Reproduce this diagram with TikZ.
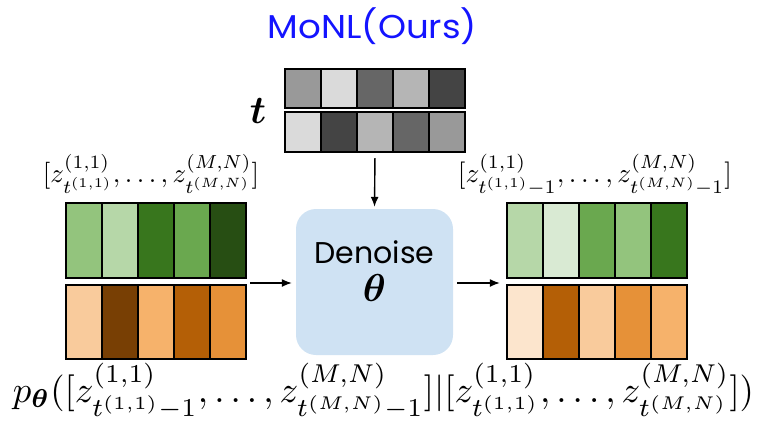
\documentclass[tikz,border=0pt]{standalone}
\usepackage{amsmath,bm}
\usepackage{fontspec}
\newfontfamily\labelfont{Poppins}
\usetikzlibrary{arrows.meta}

% gray levels of the timestep grid
\definecolor{k1}{HTML}{999999}
\definecolor{k2}{HTML}{DADADA}
\definecolor{k3}{HTML}{666666}
\definecolor{k4}{HTML}{B5B5B5}
\definecolor{k5}{HTML}{444444}
% greens
\definecolor{gA}{HTML}{D9EAD3}
\definecolor{gB}{HTML}{B6D7A8}
\definecolor{gC}{HTML}{93C47D}
\definecolor{gD}{HTML}{6AA84F}
\definecolor{gE}{HTML}{38761D}
\definecolor{gF}{HTML}{274E13}
% oranges
\definecolor{oA}{HTML}{FCE5CD}
\definecolor{oB}{HTML}{F9CB9C}
\definecolor{oC}{HTML}{F6B26B}
\definecolor{oD}{HTML}{E69138}
\definecolor{oE}{HTML}{B45F06}
\definecolor{oF}{HTML}{783F04}
\definecolor{boxblue}{HTML}{CFE2F3}
\definecolor{titleblue}{HTML}{1414FF}

\tikzset{
  cell/.style={draw=black, line width=1.8pt},
  group/.style={inner sep=0pt, minimum width=180pt},
  flow/.style={-{Latex[length=10pt,width=8pt]}, line width=1.4pt},
  mathlabel/.style={inner sep=0pt},
}

\begin{document}
\begin{tikzpicture}[x=1pt,y=-1pt]
\useasboundingbox (0,0) rectangle (765,423);

% title
\node[text=titleblue, inner sep=0pt] (title) at (372.5,26)
  {\scalebox{1.08}[1]{\labelfont\fontsize{33}{38}\selectfont MoNL(Ours)}};

% timestep grid
\foreach \c [count=\i from 0] in {k1,k2,k3,k4,k5}
  \draw[cell, fill=\c] (285+36*\i,69) rectangle ++(36,39);
\foreach \c [count=\i from 0] in {k2,k5,k4,k3,k1}
  \draw[cell, fill=\c] (285+36*\i,112) rectangle ++(36,40);
\node[group, minimum height=83pt] (T) at (375,110.5) {};
\node[inner sep=0pt] (tlab) at (258,111)
  {\resizebox{!}{25pt}{$\boldsymbol{t}$}};

% noisy input (left)
\foreach \c [count=\i from 0] in {gC,gB,gE,gD,gF}
  \draw[cell, fill=\c] (66+36*\i,203) rectangle ++(36,75);
\foreach \c [count=\i from 0] in {oB,oF,oC,oE,oD}
  \draw[cell, fill=\c] (66+36*\i,285) rectangle ++(36,74);
\node[group, minimum height=156pt] (L) at (156,281) {};
\node[mathlabel] (Llab) at (151,174)
  {\resizebox{216pt}{!}{$[z^{(1,1)}_{t^{(1,1)}},\ldots,z^{(M,N)}_{t^{(M,N)}}]$}};

% denoised output (right)
\foreach \c [count=\i from 0] in {gB,gA,gD,gC,gE}
  \draw[cell, fill=\c] (507+36*\i,203) rectangle ++(36,75);
\foreach \c [count=\i from 0] in {oA,oE,oB,oD,oC}
  \draw[cell, fill=\c] (507+36*\i,285) rectangle ++(36,74);
\node[group, minimum height=156pt] (R) at (597,281) {};
\node[mathlabel] (Rlab) at (595,175)
  {\resizebox{274pt}{!}{$[z^{(1,1)}_{t^{(1,1)}-1},\ldots,z^{(M,N)}_{t^{(M,N)}-1}]$}};

% denoiser
\node[fill=boxblue, rounded corners=20pt, minimum width=157pt,
      minimum height=146pt, inner sep=0pt] (D) at (374.5,282) {};
\node[inner sep=0pt] (Dname) at (374.5,252)
  {\labelfont\fontsize{30}{34}\selectfont Denoise};
\node[inner sep=0pt] (Dtheta) at (374.5,288)
  {\resizebox{!}{27pt}{$\boldsymbol{\theta}$}};

% connectors
\draw[flow, shorten <=6pt, shorten >=2pt] (T.south) -- (D.north);
\draw[flow, shorten <=4pt, shorten >=4pt] (L.east |- 0,283) -- (D.west |- 0,283);
\draw[flow, shorten <=4pt, shorten >=7pt] (D.east |- 0,283) -- (R.west |- 0,283);

% likelihood
\node[mathlabel] (lik) at (383.5,391.5)
  {\resizebox{741pt}{!}{$p_{\boldsymbol{\theta}}([z^{(1,1)}_{t^{(1,1)}-1},\ldots,z^{(M,N)}_{t^{(M,N)}-1}]|[z^{(1,1)}_{t^{(1,1)}},\ldots,z^{(M,N)}_{t^{(M,N)}}])$}};
\end{tikzpicture}
\end{document}
